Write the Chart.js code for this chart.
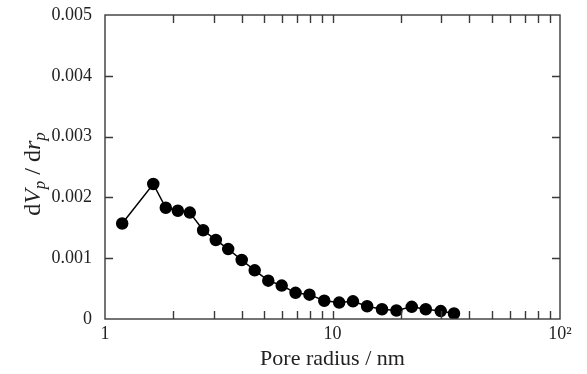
<!DOCTYPE html>
<html>
<head>
<meta charset="utf-8">
<script src="https://cdn.jsdelivr.net/npm/chart.js@4/dist/chart.umd.min.js"></script>
<style>
  html, body { margin: 0; padding: 0; background: #ffffff; }
  #wrap { width: 587px; height: 374px; position: relative; }
</style>
</head>
<body>
<div id="wrap"><canvas id="c" width="587" height="374"></canvas></div>
<script>
// ---- data ----
const poreRadius = [1.19, 1.63, 1.85, 2.09, 2.36, 2.70, 3.07, 3.48, 3.99, 4.55, 5.22, 5.98,
                    6.88, 7.92, 9.20, 10.7, 12.3, 14.2, 16.5, 19.1, 22.3, 25.7, 29.9, 34.2];
const dVdr = [0.00157, 0.00222, 0.00183, 0.00178, 0.00175, 0.00146, 0.00130, 0.00115,
              0.00097, 0.00080, 0.00063, 0.00055, 0.00043, 0.00040, 0.00030, 0.00027,
              0.00029, 0.00021, 0.00016, 0.00014, 0.00020, 0.00016, 0.00013, 0.00009];

const xMajorLabels = { 1: '1', 10: '10', 100: '10²' };
const xTickValues = [2, 3, 4, 5, 6, 7, 8, 9, 10, 20, 30, 40, 50, 60, 70, 80, 90];
const yTickValues = [0.001, 0.002, 0.003, 0.004];
const yTickLabels = ['0', '0.001', '0.002', '0.003', '0.004', '0.005'];
const xTitle = 'Pore radius / nm';

const SERIF = '"Liberation Serif", "Times New Roman", serif';
const INK = '#222222';
const AXIS = '#3a3a3a';

const frame = {
  id: 'frame',
  afterDraw(chart) {
    const { ctx, chartArea: a, scales: { x, y } } = chart;
    ctx.save();
    ctx.strokeStyle = AXIS;
    ctx.lineWidth = 1.4;
    ctx.strokeRect(a.left, a.top, a.right - a.left, a.bottom - a.top);
    const tl = 8;
    ctx.beginPath();
    xTickValues.forEach(v => {
      const px = Math.round(x.getPixelForValue(v)) + 0.5;
      ctx.moveTo(px, a.bottom); ctx.lineTo(px, a.bottom - tl);
      ctx.moveTo(px, a.top); ctx.lineTo(px, a.top + tl);
    });
    yTickValues.forEach(v => {
      const py = Math.round(y.getPixelForValue(v)) + 0.5;
      ctx.moveTo(a.left, py); ctx.lineTo(a.left + tl, py);
      ctx.moveTo(a.right, py); ctx.lineTo(a.right - tl, py);
    });
    ctx.stroke();

    // y-axis title: d V_p / d r_p (rotated, mixed roman/italic)
    const parts = [
      { t: 'd', f: '24px ' + SERIF, dy: 0 },
      { t: 'V', f: 'italic 24px ' + SERIF, dy: 0 },
      { t: 'p', f: 'italic 17px ' + SERIF, dy: 5 },
      { t: ' / d', f: '24px ' + SERIF, dy: 0 },
      { t: 'r', f: 'italic 24px ' + SERIF, dy: 0 },
      { t: 'p', f: 'italic 17px ' + SERIF, dy: 5 }
    ];
    let total = 0;
    parts.forEach(p => { ctx.font = p.f; p.w = ctx.measureText(p.t).width; total += p.w; });
    ctx.translate(40, 174);
    ctx.rotate(-Math.PI / 2);
    ctx.fillStyle = INK;
    ctx.textBaseline = 'alphabetic';
    ctx.textAlign = 'left';
    let cx = -total / 2;
    parts.forEach(p => { ctx.font = p.f; ctx.fillText(p.t, cx, p.dy); cx += p.w; });
    ctx.restore();
  }
};

new Chart(document.getElementById('c'), {
  type: 'line',
  data: {
    datasets: [{
      data: poreRadius.map((r, i) => ({ x: r, y: dVdr[i] })),
      borderColor: '#000000',
      backgroundColor: '#000000',
      borderWidth: 1.5,
      pointRadius: 5.5,
      pointHoverRadius: 5.5,
      pointBackgroundColor: '#000000',
      pointBorderColor: '#000000',
      tension: 0
    }]
  },
  options: {
    responsive: false,
    animation: false,
    devicePixelRatio: 1,
    layout: { padding: { left: 0, top: 15, right: 27, bottom: 0 } },
    plugins: { legend: { display: false }, tooltip: { enabled: false } },
    scales: {
      x: {
        type: 'logarithmic',
        min: 1, max: 100,
        grid: { display: false, drawTicks: false },
        border: { display: false },
        ticks: {
          autoSkip: false, maxRotation: 0, padding: 4,
          color: INK, font: { family: SERIF, size: 18 },
          callback: (v) => xMajorLabels[v] !== undefined ? xMajorLabels[v] : ''
        },
        title: { display: true, text: xTitle, color: INK,
                 font: { family: SERIF, size: 22 }, padding: { top: 0, bottom: 2 } },
        afterFit: (s) => { s.height = 55; s.paddingLeft = 0; s.paddingRight = 0; }
      },
      y: {
        type: 'linear',
        min: 0, max: 0.005,
        grid: { display: false, drawTicks: false },
        border: { display: false },
        ticks: {
          stepSize: 0.001, padding: 13,
          color: INK, font: { family: SERIF, size: 18 },
          callback: (v) => yTickLabels[Math.round(v / 0.001)]
        },
        afterFit: (s) => { s.width = 105; s.paddingTop = 0; s.paddingBottom = 0; }
      }
    }
  },
  plugins: [frame]
});
</script>
</body>
</html>
